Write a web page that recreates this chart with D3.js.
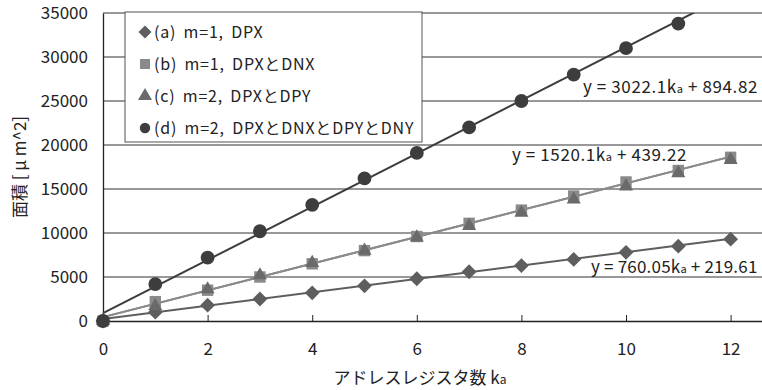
<!DOCTYPE html>
<html>
<head>
<meta charset="utf-8">
<script src="https://cdn.jsdelivr.net/npm/d3@7"></script>
<style>
  body { margin: 0; background: #fff; }
  text { font-family: "Noto Sans CJK JP", "DejaVu Sans", sans-serif; fill: #222; }
</style>
</head>
<body>
<svg id="chart" width="762" height="390"></svg>
<script>
// data
const kValues = [0, 1, 2, 3, 4, 5, 6, 7, 8, 9, 10, 11, 12];
const seriesA = [0, 1000, 1800, 2500, 3200, 4000, 4800, 5600, 6300, 7000, 7800, 8500, 9300];
const seriesB = [0, 2200, 3500, 5000, 6500, 8000, 9600, 11100, 12600, 14200, 15800, 17100, 18600];
const seriesC = [0, 1700, 3600, 5200, 6600, 8000, 9500, 10800, 12300, 13800, 15300, 16800, 18300];
const seriesD = [0, 4200, 7200, 10200, 13200, 16200, 19100, 22000, 25000, 28000, 31000, 33800, 37000];
const legendLabels = ["(a) m=1, DPX", "(b) m=1, DPXとDNX", "(c) m=2, DPXとDPY", "(d) m=2, DPXとDNXとDPYとDNY"];
const trendSlopes = [760.05, 1520.1, 1520.1, 3022.1];
const trendIntercepts = [219.61, 439.22, 439.22, 894.82];
const xTicks = [0, 2, 4, 6, 8, 10, 12];
const yTicks = [0, 5000, 10000, 15000, 20000, 25000, 30000, 35000];

let svg = d3.select("#chart");
let margin = {left: 103, top: 13, right: 0, bottom: 69};
let width = +svg.attr("width") - margin.left - margin.right;
let height = +svg.attr("height") - margin.top - margin.bottom;

let x = d3.scaleLinear().domain([0, 12.6]).range([0, width]);
let y = d3.scaleLinear().domain([0, 35000]).range([height, 0]);
let g = svg.append("g").attr("transform", `translate(${margin.left}, ${margin.top})`);

svg.append("defs").append("clipPath").attr("id", "clip")
  .append("rect").attr("x", -12).attr("y", 0).attr("width", width + 12).attr("height", height + 12);

// square diamond (rotated square), d3's diamond is too narrow
const wideDiamond = {
  draw(ctx, size) {
    let r = Math.sqrt(size / 2);
    ctx.moveTo(0, -r); ctx.lineTo(r, 0); ctx.lineTo(0, r); ctx.lineTo(-r, 0); ctx.closePath();
  }
};

// grid lines
g.selectAll(".grid")
  .data(yTicks.filter(d => d > 0))
  .enter().append("line")
  .attr("x1", 0).attr("x2", width)
  .attr("y1", d => y(d)).attr("y2", d => y(d))
  .attr("stroke", "#333").attr("stroke-width", 1);

// axes
let xAxis = g.append("g")
  .attr("transform", `translate(0, ${height})`)
  .call(d3.axisBottom(x).tickValues(xTicks).tickSizeInner(-6).tickSizeOuter(0).tickPadding(22));
let yAxis = g.append("g")
  .call(d3.axisLeft(y).tickValues(yTicks).tickSizeInner(0).tickSizeOuter(0).tickPadding(15).tickFormat(d3.format("d")));
[xAxis, yAxis].forEach(a => {
  a.select(".domain").attr("stroke", "#222").attr("stroke-width", 1.3);
  a.selectAll(".tick line").attr("stroke", "#222");
  a.selectAll("text").attr("font-size", 17).attr("fill", "#222")
    .style("font-family", '"Noto Sans CJK JP", sans-serif');
});

let series = [
  {values: seriesA, shape: wideDiamond, size: 110, color: "#5e5e5e", line: "#5e5e5e"},
  {values: seriesB, shape: d3.symbolSquare, size: 130, color: "#8a8a8a", line: "#8a8a8a"},
  {values: seriesC, shape: d3.symbolTriangle, size: 85, color: "#6a6a6a", line: "#8a8a8a"},
  {values: seriesD, shape: d3.symbolCircle, size: 150, color: "#3d3d3d", line: "#3d3d3d"}
];

let plot = g.append("g").attr("clip-path", "url(#clip)");

// trend lines
series.forEach((s, i) => {
  plot.append("line")
    .attr("x1", x(0)).attr("y1", y(trendIntercepts[i]))
    .attr("x2", x(12)).attr("y2", y(trendSlopes[i] * 12 + trendIntercepts[i]))
    .attr("stroke", s.line).attr("stroke-width", 2);
});

// points
series.forEach((s) => {
  plot.selectAll(null)
    .data(kValues)
    .enter().append("path")
    .attr("d", d3.symbol().type(s.shape).size(s.size))
    .attr("transform", (d, j) => `translate(${x(d)}, ${y(s.values[j])})`)
    .attr("fill", s.color);
});

// trend equations
let eqPos = [[591, 273], null, [512, 161], [583, 93]];
[0, 2, 3].forEach(i => {
  let t = svg.append("text")
    .attr("x", eqPos[i][0]).attr("y", eqPos[i][1])
    .attr("font-size", 17).attr("letter-spacing", i === 0 ? 0.2 : 0.6);
  t.append("tspan").text(`y = ${trendSlopes[i]}k`);
  t.append("tspan").attr("font-size", 11).text("a");
  t.append("tspan").text(` + ${trendIntercepts[i]}`);
});

// legend
let legend = svg.append("g").attr("transform", "translate(125, 12)");
legend.append("rect").attr("width", 297).attr("height", 130)
  .attr("fill", "#fff").attr("stroke", "#555").attr("stroke-width", 1);
legendLabels.forEach((label, i) => {
  let row = legend.append("g").attr("transform", `translate(20, ${20 + i * 32})`);
  row.append("path")
    .attr("d", d3.symbol().type(series[i].shape).size(i === 1 ? 100 : 85))
    .attr("fill", series[i].color);
  row.append("text").attr("x", 9).attr("y", 5.5).attr("font-size", 16)
    .attr("letter-spacing", 0.8).attr("word-spacing", 3).text(label);
});

// axis titles
svg.append("text")
  .attr("transform", `translate(26, 167) rotate(-90)`)
  .attr("text-anchor", "middle").attr("font-size", 17)
  .text("面積 [ μ m^2]");
let xt = svg.append("text").attr("x", 420).attr("y", 384)
  .attr("text-anchor", "middle").attr("font-size", 17);
xt.append("tspan").text("アドレスレジスタ数  k");
xt.append("tspan").attr("font-size", 12).text("a");
</script>
</body>
</html>
